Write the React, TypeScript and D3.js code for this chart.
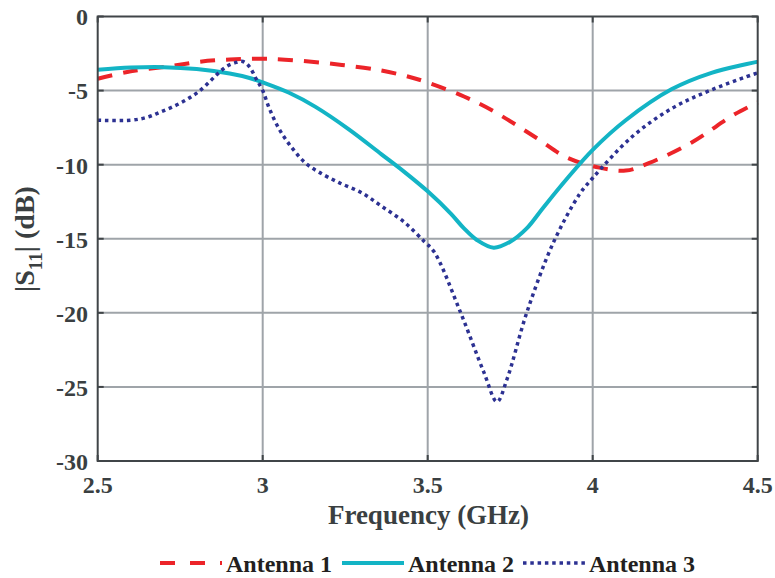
import React, { useRef, useEffect } from 'react';
import * as d3 from 'd3';

// frequency (GHz) / |S11| (dB)
const freq1 = [2.5, 2.6, 2.72, 2.81, 2.9, 3.0, 3.11, 3.24, 3.36, 3.44, 3.5, 3.61, 3.7, 3.83, 3.92, 4.02, 4.1, 4.17, 4.3, 4.43, 4.5];
const ant1 = [-4.2, -3.7, -3.35, -3.05, -2.9, -2.85, -2.98, -3.27, -3.65, -4.05, -4.45, -5.4, -6.4, -8.2, -9.5, -10.2, -10.4, -9.9, -8.5, -6.6, -5.8];

const freq2 = [2.5, 2.6, 2.7, 2.8, 2.9, 2.96, 3.0, 3.08, 3.16, 3.26, 3.36, 3.43, 3.5, 3.57, 3.61, 3.65, 3.7, 3.75, 3.8, 3.85, 3.92, 4.0, 4.1, 4.24, 4.36, 4.5];
const ant2 = [-3.6, -3.45, -3.42, -3.55, -3.85, -4.15, -4.45, -5.15, -6.1, -7.6, -9.3, -10.5, -11.8, -13.3, -14.3, -15.1, -15.6, -15.2, -14.3, -12.9, -11.0, -9.0, -7.0, -4.9, -3.8, -3.05];

const freq3 = [2.5, 2.6, 2.65, 2.69, 2.73, 2.77, 2.8, 2.83, 2.86, 2.89, 2.92, 2.94, 2.96, 2.98, 3.0, 3.02, 3.05, 3.09, 3.13, 3.17, 3.23, 3.3, 3.36, 3.43, 3.49, 3.52, 3.6, 3.67, 3.71, 3.74, 3.8, 3.88, 3.96, 4.0, 4.12, 4.24, 4.36, 4.5];
const ant3 = [-7.0, -7.0, -6.8, -6.45, -6.07, -5.6, -5.17, -4.6, -3.94, -3.38, -3.1, -3.04, -3.4, -4.2, -5.0, -6.2, -7.6, -8.9, -9.9, -10.5, -11.2, -11.9, -12.8, -13.9, -15.2, -15.9, -20, -24, -26, -24.5, -20, -15.3, -12.0, -10.9, -8.1, -6.2, -4.95, -3.8];

const xTicks = [2.5, 3, 3.5, 4, 4.5];
const yTicks = [0, -5, -10, -15, -20, -25, -30];

const seriesNames = ['Antenna 1', 'Antenna 2', 'Antenna 3'];

const App = () => {
  const svgRef = useRef<SVGSVGElement>(null);

  useEffect(() => {
    const svg = d3.select(svgRef.current);
    svg.selectAll('*').remove();

    const font = 'Liberation Serif';
    const left = 97.7, right = 757.7, top = 16.5, bottom = 461;

    const x = d3.scaleLinear().domain([2.5, 4.5]).range([left, right]);
    const y = d3.scaleLinear().domain([-30, 0]).range([bottom, top]);

    svg.append('rect').attr('width', 775).attr('height', 578).attr('fill', '#fff');

    // grid
    const grid = svg.append('g').attr('stroke', '#9fa4a9').attr('stroke-width', 2);
    xTicks.slice(1, -1).forEach(t => {
      grid.append('line').attr('x1', x(t)).attr('x2', x(t)).attr('y1', top).attr('y2', bottom);
    });
    yTicks.slice(1, -1).forEach(t => {
      grid.append('line').attr('x1', left).attr('x2', right).attr('y1', y(t)).attr('y2', y(t));
    });

    // inner ticks on all four sides
    const tk = svg.append('g').attr('stroke', '#404548').attr('stroke-width', 2);
    xTicks.forEach(t => {
      tk.append('line').attr('x1', x(t)).attr('x2', x(t)).attr('y1', bottom).attr('y2', bottom - 6);
      tk.append('line').attr('x1', x(t)).attr('x2', x(t)).attr('y1', top).attr('y2', top + 6);
    });
    yTicks.forEach(t => {
      tk.append('line').attr('x1', left).attr('x2', left + 6).attr('y1', y(t)).attr('y2', y(t));
      tk.append('line').attr('x1', right).attr('x2', right - 6).attr('y1', y(t)).attr('y2', y(t));
    });

    const mk = (fs: number[], vs: number[]) => fs.map((f, i) => [f, vs[i]] as [number, number]);
    const line = d3.line<[number, number]>()
      .x(d => x(d[0]))
      .y(d => y(d[1]))
      .curve(d3.curveCatmullRom.alpha(0.5));

    const styles = [
      { color: '#ec2429', width: 4, dash: '15,11' },
      { color: '#13b4c5', width: 4, dash: null },
      { color: '#2c3192', width: 3.5, dash: '3.5,3.8' },
    ];
    const data = [mk(freq1, ant1), mk(freq2, ant2), mk(freq3, ant3)];

    data.forEach((d, i) => {
      svg.append('path')
        .attr('d', line(d))
        .attr('fill', 'none')
        .attr('stroke', styles[i].color)
        .attr('stroke-width', styles[i].width)
        .attr('stroke-dasharray', styles[i].dash);
    });

    // box
    svg.append('rect')
      .attr('x', left).attr('y', top)
      .attr('width', right - left).attr('height', bottom - top)
      .attr('fill', 'none').attr('stroke', '#404548').attr('stroke-width', 2);

    const txt = (sel: any, size: number) =>
      sel.attr('font-family', font).attr('font-weight', 'bold').attr('font-size', size);

    // tick labels
    xTicks.forEach(t => {
      txt(svg.append('text')
        .attr('x', x(t)).attr('y', 493)
        .attr('text-anchor', 'middle')
        .attr('fill', '#3a3f41'), 24)
        .text(String(t));
    });
    yTicks.forEach(t => {
      txt(svg.append('text')
        .attr('x', 88).attr('y', y(t)).attr('dy', '0.37em')
        .attr('text-anchor', 'end')
        .attr('fill', '#3a3f41'), 24)
        .text(String(t));
    });

    // axis titles
    txt(svg.append('text')
      .attr('x', 428.5).attr('y', 524)
      .attr('text-anchor', 'middle')
      .attr('fill', '#3a3f41'), 27)
      .text('Frequency (GHz)');

    const yl = txt(svg.append('text')
      .attr('transform', 'translate(34,239) rotate(-90)')
      .attr('text-anchor', 'middle')
      .attr('fill', '#3a3f41'), 28);
    yl.append('tspan').text('|S');
    yl.append('tspan').attr('font-size', 19).attr('dy', 8).text('11');
    yl.append('tspan').attr('dy', -8).text('| (dB)');

    // legend
    const legX = [160, 342, 523];
    seriesNames.forEach((name, i) => {
      svg.append('line')
        .attr('x1', legX[i]).attr('x2', legX[i] + 62)
        .attr('y1', 563).attr('y2', 563)
        .attr('stroke', styles[i].color)
        .attr('stroke-width', styles[i].width)
        .attr('stroke-dasharray', i === 0 ? '15,15' : styles[i].dash);
      txt(svg.append('text')
        .attr('x', legX[i] + 66).attr('y', 572)
        .attr('fill', '#231f20'), 24)
        .text(name);
    });
  }, []);

  return (
    <svg
      ref={svgRef}
      width={775}
      height={578}
      style={{ position: 'absolute', left: 0, top: 0, display: 'block' }}
    ></svg>
  );
};

export default App;
